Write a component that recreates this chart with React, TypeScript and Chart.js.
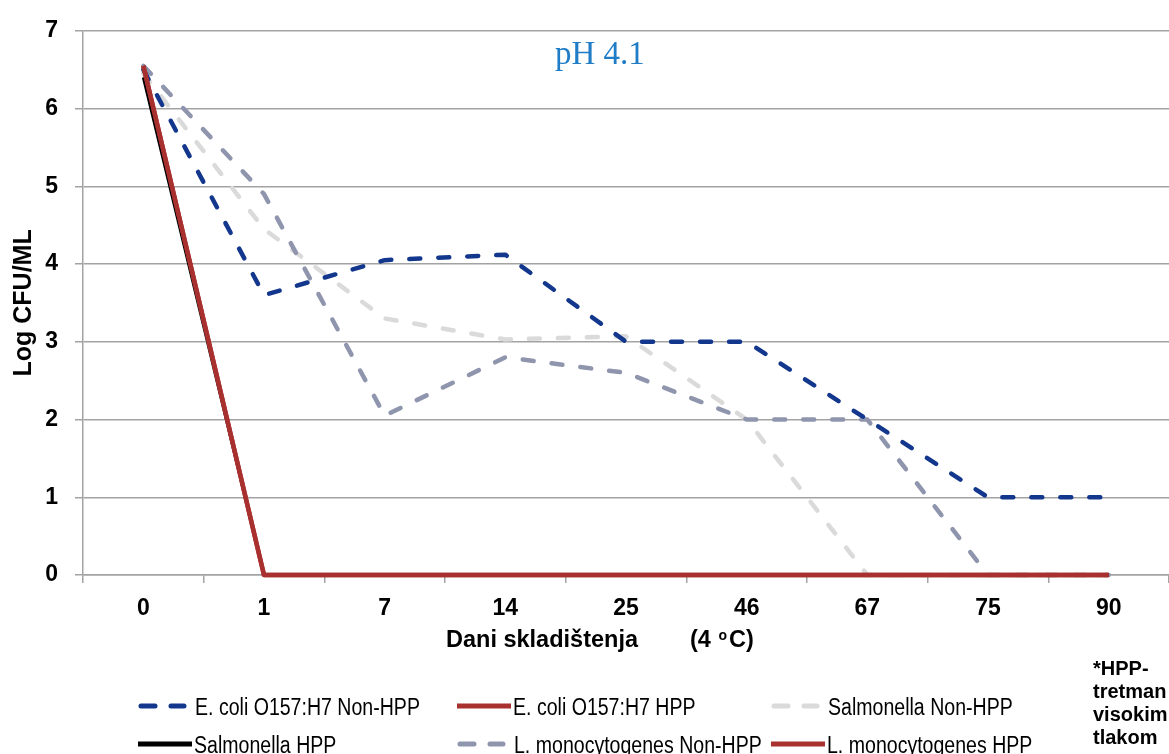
import React, { useEffect, useRef } from "react";
import { Chart, registerables } from "chart.js";

Chart.register(...registerables);

const DAYS = ["0", "1", "7", "14", "25", "46", "67", "75", "90"];
const ECOLI_NON_HPP = [6.5, 3.6, 4.05, 4.12, 3.0, 3.0, 2.0, 1.0, 1.0];
const ECOLI_HPP = [6.55, 0, 0, 0, 0, 0, 0, 0, 0];
const SALM_NON_HPP = [6.45, 4.45, 3.3, 3.03, 3.07, 2.0, 0, 0, 0];
const SALM_HPP = [6.4, 0, 0, 0, 0, 0, 0, 0, 0];
const LMONO_NON_HPP = [6.55, 4.9, 2.05, 2.8, 2.6, 2.0, 2.0, 0, 0];
const LMONO_HPP = [6.55, 0, 0, 0, 0, 0, 0, 0, 0];

const SERIES_LABELS = [
  "E. coli O157:H7 Non-HPP",
  "E. coli O157:H7 HPP",
  "Salmonella Non-HPP",
  "Salmonella HPP",
  "L. monocytogenes Non-HPP",
  "L. monocytogenes HPP",
];
const Y_TICKS = [0, 1, 2, 3, 4, 5, 6, 7];
const TITLE = "pH 4.1";
const Y_TITLE = "Log CFU/ML";
const X_TITLE = "Dani skladištenja";
const NOTE_LINES = ["*HPP-", "tretman", "visokim", "tlakom"];

const NAVY = "#12378c";
const RED = "#a8302f";
const LIGHT = "#dadada";
const GRAYBLUE = "#8f95ad";
const GRID = "#a3a3a3";

const SANS = '"Liberation Sans", Arial, sans-serif';
const SERIF = '"Liberation Serif", "Times New Roman", serif';

const annotationPlugin = {
  id: "annotations",
  afterDraw(chart: any) {
    const ctx = chart.ctx as CanvasRenderingContext2D;
    ctx.save();

    // Title in the plot
    ctx.fillStyle = "#1f7cc6";
    ctx.textAlign = "left";
    ctx.textBaseline = "alphabetic";
    ctx.font = `33px ${SERIF}`;
    ctx.fillText(TITLE, 555, 64);

    // X axis title
    ctx.fillStyle = "#000";
    ctx.font = `bold 23.5px ${SANS}`;
    ctx.fillText(X_TITLE, 446, 647);
    let x = 690;
    ctx.fillText("(4 ", x, 647);
    x += ctx.measureText("(4 ").width + 1;
    ctx.font = `bold 14px ${SANS}`;
    ctx.fillText("o", x, 640);
    x += ctx.measureText("o").width + 2;
    ctx.font = `bold 23.5px ${SANS}`;
    ctx.fillText("C)", x, 647);

    // Note
    ctx.font = `bold 20px ${SANS}`;
    NOTE_LINES.forEach((t, i) => ctx.fillText(t, 1093, 675 + i * 23));

    // Legend
    const ds = chart.data.datasets;
    const colX = [138, 457, 771];
    const rowY = [706, 744];
    ds.forEach((d: any, i: number) => {
      const col = i % 3;
      const row = Math.floor(i / 3);
      const dashed = d.borderDash && d.borderDash.length > 0;
      const len = dashed ? 46 : 54;
      const lx = colX[col];
      const ly = rowY[row];
      ctx.beginPath();
      ctx.strokeStyle = d.borderColor;
      ctx.lineWidth = 5;
      ctx.lineCap = dashed ? "round" : "butt";
      ctx.setLineDash(dashed ? [14, 16] : []);
      ctx.moveTo(lx + (dashed ? 3 : 0), ly);
      ctx.lineTo(lx + len, ly);
      ctx.stroke();
      ctx.setLineDash([]);
      const tx = lx + len + (dashed ? 11 : 2);
      ctx.save();
      ctx.translate(tx, ly + 8.5);
      ctx.scale(0.85, 1);
      ctx.fillStyle = "#000";
      ctx.font = `23px ${SANS}`;
      ctx.fillText(d.label, 0, 0);
      ctx.restore();
    });

    ctx.restore();
  },
};

export default function App() {
  const ref = useRef<HTMLCanvasElement | null>(null);

  useEffect(() => {
    document.body.style.margin = "0";
    const canvas = ref.current;
    if (!canvas) return;
    const dashed = [11, 18];
    const common = {
      pointRadius: 0,
      tension: 0,
      borderJoinStyle: "round",
      clip: false,
    };
    const chart = new Chart(canvas, {
      type: "line",
      data: {
        labels: DAYS,
        datasets: [
          {
            ...common,
            label: SERIES_LABELS[0],
            data: ECOLI_NON_HPP,
            borderColor: NAVY,
            borderWidth: 4.5,
            borderDash: dashed,
            borderCapStyle: "round",
            order: 2,
          },
          {
            ...common,
            label: SERIES_LABELS[1],
            data: ECOLI_HPP,
            borderColor: RED,
            borderWidth: 4.5,
            order: 0,
          },
          {
            ...common,
            label: SERIES_LABELS[2],
            data: SALM_NON_HPP,
            borderColor: LIGHT,
            borderWidth: 4.5,
            borderDash: dashed,
            borderCapStyle: "round",
            order: 4,
          },
          {
            ...common,
            label: SERIES_LABELS[3],
            data: SALM_HPP,
            borderColor: "#000000",
            borderWidth: 3,
            order: 1,
          },
          {
            ...common,
            label: SERIES_LABELS[4],
            data: LMONO_NON_HPP,
            borderColor: GRAYBLUE,
            borderWidth: 4.5,
            borderDash: dashed,
            borderCapStyle: "round",
            order: 3,
          },
          {
            ...common,
            label: SERIES_LABELS[5],
            data: LMONO_HPP,
            borderColor: RED,
            borderWidth: 4.5,
            order: 0,
          },
        ],
      },
      options: {
        animation: false,
        responsive: true,
        maintainAspectRatio: false,
        layout: { padding: { top: 28, right: 0, bottom: 0, left: 0 } },
        plugins: {
          legend: { display: false },
          tooltip: { enabled: false },
          title: { display: false },
        },
        scales: {
          x: {
            type: "category",
            offset: true,
            grid: {
              offset: true,
              drawOnChartArea: false,
              drawTicks: true,
              tickLength: 8,
              color: GRID,
              lineWidth: 1.5,
            },
            border: { display: true, color: GRID, width: 1.5 },
            ticks: {
              color: "#000",
              font: { family: SANS, size: 23, weight: "bold" },
              padding: 12,
              maxRotation: 0,
              autoSkip: false,
            },
            afterFit: (s: any) => {
              s.height = 754 - 575;
            },
          },
          y: {
            min: 0,
            max: 7,
            afterBuildTicks: (s: any) => {
              s.ticks = Y_TICKS.map((v) => ({ value: v }));
            },
            grid: {
              color: GRID,
              lineWidth: 1.5,
              tickLength: 8,
              drawTicks: true,
            },
            border: { display: true, color: GRID, width: 1.5 },
            ticks: {
              color: "#000",
              font: { family: SANS, size: 23, weight: "bold" },
              padding: 17,
            },
            title: {
              display: true,
              text: Y_TITLE,
              color: "#000",
              font: { family: SANS, size: 25, weight: "bold" },
              padding: { top: 9, bottom: 0 },
            },
            afterFit: (s: any) => {
              s.width = 83;
            },
          },
        },
      },
      plugins: [annotationPlugin],
    } as any);
    return () => chart.destroy();
  }, []);

  return (
    <div style={{ position: "relative", width: 1169, height: 754 }}>
      <canvas ref={ref} />
    </div>
  );
}
